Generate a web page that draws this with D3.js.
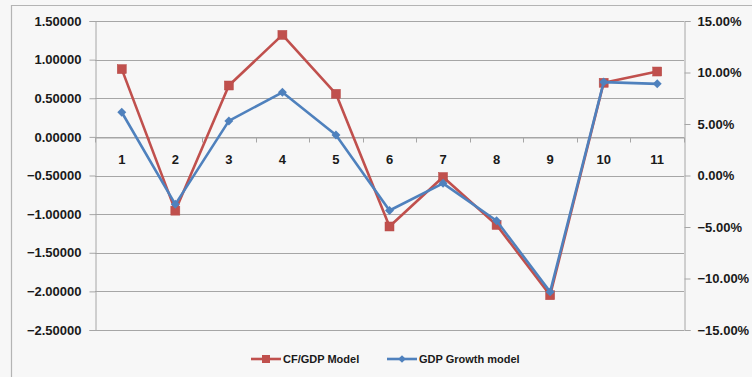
<!DOCTYPE html>
<html>
<head>
<meta charset="utf-8">
<script src="https://cdn.jsdelivr.net/npm/d3@7"></script>
<style>
  html, body { margin: 0; padding: 0; background: #f7f7f7; }
  svg { display: block; }
  text { font-family: "Liberation Sans", Arial, sans-serif; }
</style>
</head>
<body>
<svg id="chart" width="752" height="377"></svg>
<script>
// Period index shown on the category axis
const categories = ["1", "2", "3", "4", "5", "6", "7", "8", "9", "10", "11"];
// CF/GDP model (left axis)
const cfGdpModel = [0.877, -0.955, 0.665, 1.32, 0.557, -1.16, -0.52, -1.14, -2.05, 0.70, 0.846];
// GDP growth model, in percent (right axis)
const gdpGrowthModel = [6.14, -2.8, 5.3, 8.08, 3.93, -3.4, -0.76, -4.39, -11.3, 9.07, 8.9];
// Axis ticks
const leftTicks = [1.5, 1.0, 0.5, 0.0, -0.5, -1.0, -1.5, -2.0, -2.5];
const rightTicks = [15, 10, 5, 0, -5, -10, -15];
const seriesNames = ["CF/GDP Model", "GDP Growth model"];

const svg = d3.select("#chart");
const W = 752, H = 377;
const plot = { left: 95, right: 684, top: 21, bottom: 330 };
const red = "#c0504d", blue = "#4f81bd", grid = "#a6a6a6";

// Chart frame
svg.append("rect").attr("x", 0).attr("y", 0).attr("width", W).attr("height", H).attr("fill", "#f7f7f7");
svg.append("path")
  .attr("d", `M11.5,${H + 2} V5.5 H${W + 2}`)
  .attr("fill", "none").attr("stroke", "#b4b4b4").attr("stroke-width", 1.2);

const x = d3.scaleBand().domain(categories).range([plot.left, plot.right]).padding(0);
const yL = d3.scaleLinear().domain([-2.5, 1.5]).range([plot.bottom, plot.top]);
const yR = d3.scaleLinear().domain([-15, 15]).range([plot.bottom, plot.top]);

// Horizontal gridlines
svg.append("g").selectAll("line").data(leftTicks).join("line")
  .attr("x1", plot.left).attr("x2", plot.right)
  .attr("y1", d => Math.round(yL(d)) + 0.5).attr("y2", d => Math.round(yL(d)) + 0.5)
  .attr("stroke", grid).attr("stroke-width", 1);

// Left value axis
const leftAxis = d3.axisLeft(yL).tickValues(leftTicks).tickSize(6).tickPadding(8)
  .tickFormat(d3.format(".5f"));
const gl = svg.append("g").attr("transform", `translate(${plot.left + 0.5},0)`).call(leftAxis);
gl.selectAll("text").attr("font-size", 13).attr("font-weight", "bold").attr("fill", "#1a1a1a")
  .attr("font-family", "Liberation Sans, Arial, sans-serif");

// Right value axis
const rightAxis = d3.axisRight(yR).tickValues(rightTicks).tickSize(6).tickPadding(7)
  .tickFormat(d => d3.format(".2f")(d) + "%");
const gr = svg.append("g").attr("transform", `translate(${plot.right + 0.5},0)`).call(rightAxis);
gr.selectAll("text").attr("font-size", 13).attr("font-weight", "bold").attr("fill", "#1a1a1a")
  .attr("font-family", "Liberation Sans, Arial, sans-serif");

[gl, gr].forEach(g => {
  g.selectAll(".domain, .tick line").attr("stroke", grid);
});

// Category axis crossing at zero on the left scale
const y0 = Math.round(yL(0)) + 0.5;
const xAxis = d3.axisBottom(x).tickSize(0).tickPadding(17);
const gx = svg.append("g").attr("transform", `translate(0,${y0})`).call(xAxis);
gx.select(".domain").attr("stroke", grid);
gx.selectAll("text").attr("font-size", 13).attr("font-weight", "bold").attr("fill", "#1a1a1a")
  .attr("font-family", "Liberation Sans, Arial, sans-serif");
// tick marks at category boundaries
const bounds = categories.map(c => x(c)).concat([plot.right]);
svg.append("g").selectAll("line").data(bounds).join("line")
  .attr("x1", d => Math.round(d) + 0.5).attr("x2", d => Math.round(d) + 0.5)
  .attr("y1", y0).attr("y2", y0 + 5)
  .attr("stroke", grid);

const cx = c => x(c) + x.bandwidth() / 2;

// CF/GDP line with square markers
const redLine = d3.line().x((d, i) => cx(categories[i])).y(d => yL(d));
svg.append("path").datum(cfGdpModel).attr("d", redLine)
  .attr("fill", "none").attr("stroke", red).attr("stroke-width", 2.6).attr("stroke-linejoin", "round");
svg.append("g").selectAll("rect").data(cfGdpModel).join("rect")
  .attr("x", (d, i) => cx(categories[i]) - 4.5).attr("y", d => yL(d) - 4.5)
  .attr("width", 9).attr("height", 9).attr("fill", red).attr("stroke", "#b84a47").attr("stroke-width", 0.5);

// GDP growth line with diamond markers
const blueLine = d3.line().x((d, i) => cx(categories[i])).y(d => yR(d));
svg.append("path").datum(gdpGrowthModel).attr("d", blueLine)
  .attr("fill", "none").attr("stroke", blue).attr("stroke-width", 2.6).attr("stroke-linejoin", "round");
const diamond = d3.symbol().type(d3.symbolSquare).size(40);
svg.append("g").selectAll("path").data(gdpGrowthModel).join("path")
  .attr("d", diamond)
  .attr("transform", (d, i) => `translate(${cx(categories[i])},${yR(d)}) rotate(45)`)
  .attr("fill", blue);

// Legend
const legend = svg.append("g").attr("transform", "translate(0,359)");
const legendItems = [
  { name: seriesNames[0], color: red, x0: 251, shape: "square" },
  { name: seriesNames[1], color: blue, x0: 387, shape: "diamond" }
];
legendItems.forEach(it => {
  legend.append("line").attr("x1", it.x0).attr("x2", it.x0 + 30).attr("y1", 0).attr("y2", 0)
    .attr("stroke", it.color).attr("stroke-width", 2.6);
  if (it.shape === "square") {
    legend.append("rect").attr("x", it.x0 + 15 - 4).attr("y", -4).attr("width", 8).attr("height", 8).attr("fill", it.color);
  } else {
    legend.append("path").attr("d", d3.symbol().type(d3.symbolSquare).size(30)())
      .attr("transform", `translate(${it.x0 + 15},0) rotate(45)`).attr("fill", it.color);
  }
  legend.append("text").attr("x", it.x0 + 32).attr("y", 4)
    .attr("font-size", 11).attr("font-weight", "bold").attr("fill", "#1a1a1a")
    .text(it.name);
});
</script>
</body>
</html>
